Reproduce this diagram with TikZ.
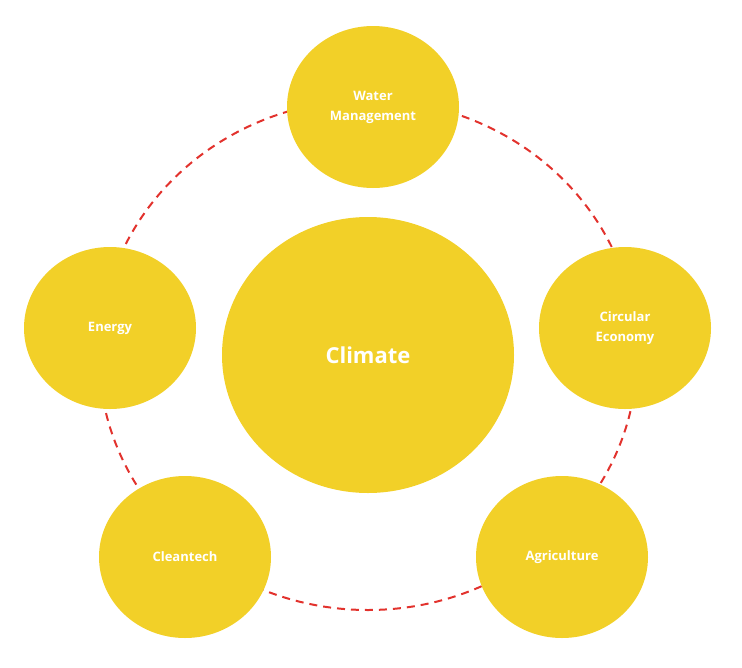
\documentclass[tikz,border=0pt]{standalone}
\usepackage{fontspec}
\setmainfont{Open Sans}
\usepackage{xcolor}
\usepackage{tikz}
\definecolor{clrTopic}{RGB}{242,208,40}
\definecolor{clrRing} {RGB}{226,50,45}
\usetikzlibrary{shapes.geometric,positioning}

\begin{document}
\begin{tikzpicture}[
  x=1pt, y=-1pt,
  every node/.style = {font=\bfseries\fontsize{13}{20}\selectfont, text=white},
  %--- node styles ---------------------------------------------------
  hubst/.style    = {ellipse, fill=clrTopic, inner sep=0pt,
                     minimum width=292pt, minimum height=276pt,
                     font=\bfseries\fontsize{22}{26}\selectfont},
  topicst/.style  = {ellipse, fill=clrTopic, inner sep=0pt,
                     minimum width=172pt, minimum height=162pt,
                     align=center},
  ring/.style     = {dashed, dash pattern=on 8pt off 6pt,
                     line width=2pt, color=clrRing},
]
\useasboundingbox (0,0) rectangle (742,667);

% ---- Nodes --------------------------------------------------------
\node[hubst] (climate) at (368,355) {Climate};

% ---- Ring ---------------------------------------------------------
\draw[ring] (climate.center) ellipse [x radius=269pt, y radius=255pt];

\node[topicst] (water)    at (373,107) {Water\\Management};
\node[topicst] (energy)   at (110,328) {Energy};
\node[topicst] (circular) at (625,328) {Circular\\Economy};
\node[topicst] (clean)    at (185,557) {Cleantech};
\node[topicst] (agri)     at (562,557) {Agriculture};

\end{tikzpicture}
\end{document}
